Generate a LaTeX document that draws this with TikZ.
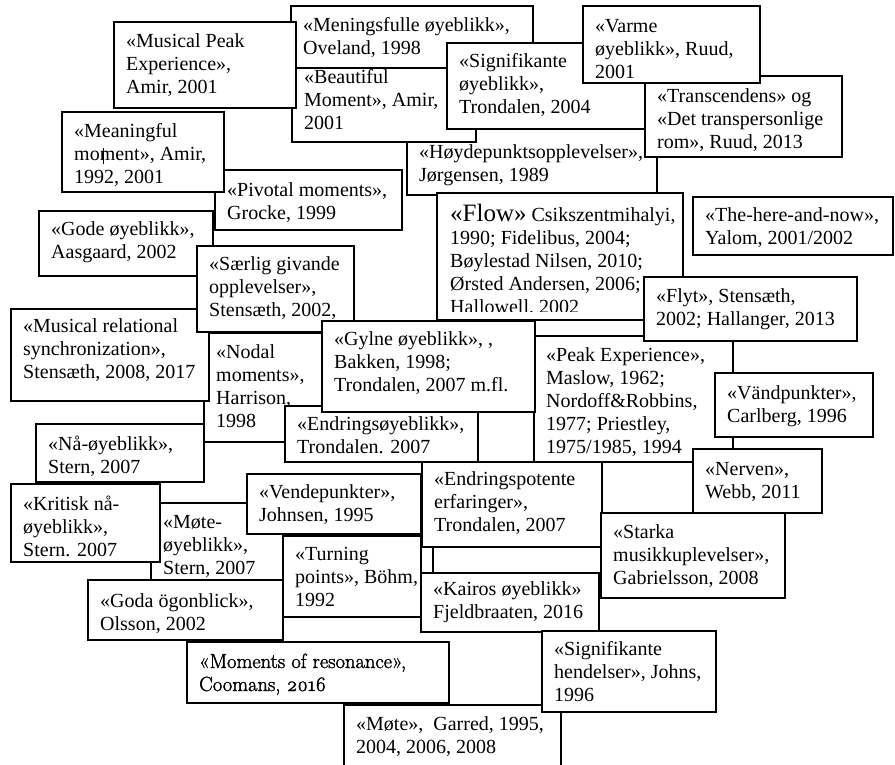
\documentclass[tikz,border=0pt]{standalone}
\usepackage{fontspec}
\setmainfont{Liberation Serif}
\newfontfamily\lmfont[FakeBold=1.6,Numbers=OldStyle]{Latin Modern Roman}
\newcommand\tl[1]{\vtop{\baselineskip=23pt\lineskiplimit=-100pt\lineskip=0pt\def\\{\cr}\halign{##\hfil\cr#1\cr}}}
\tikzset{
 boxline/.style={draw=black, line width=1.1pt, fill=white},
 txt/.style={anchor=base west, inner sep=0pt, font=\fontsize{20}{23}\selectfont},
}
% name, x1, y1, x2, y2, baseline offset, text
\newcommand\card[7]{%
  \path[boxline] (#2,#3) rectangle (#4,#5);
  \node[txt] (#1) at ([shift={(12,#6)}]#2,#3) {\tl{#7}};
}
\begin{document}
\begin{tikzpicture}[x=1pt,y=-1pt]
\fill[white] (0,0) rectangle (895,764);
\clip (0,0) rectangle (895,764);
\card{hoyde}{407}{129}{657}{195}{29}{«Høydepunktsopplevelser»,\\Jørgensen, 1989}
\card{beaut}{292}{58}{476}{142}{25}{«Beautiful\\Moment», Amir,\\2001}
\card{mening}{291}{6}{533}{68}{25}{«Meningsfulle øyeblikk»,\\Oveland, 1998}
\card{mpeak}{114}{22}{296}{108}{25}{«Musical Peak\\Experience»,\\Amir, 2001}
\card{transc}{645}{76}{842}{157}{26}{«Transcendens» og\\«Det transpersonlige\\rom», Ruud, 2013}
\card{signif}{447}{43}{645}{129}{24}{«Signifikante\\øyeblikk»,\\Trondalen, 2004}
\card{varme}{583}{6}{760}{83}{26}{«Varme\\øyeblikk», Ruud,\\2001}
\card{pivot}{215}{170}{402}{230}{26}{«Pivotal moments»,\\Grocke, 1999}
\card{meaning}{62}{112}{224}{192}{25}{«Meaningful\\moment», Amir,\\1992, 2001}
\draw[line width=0.8pt] (103,148) -- (103,164);
% Flow box with clipped text
\path[boxline] (437,193) rectangle (683,320);
\begin{scope}
\clip (437,193) rectangle (683,311);
\node[txt] (flow) at (450,221) {\tl{{\fontsize{25}{23}\selectfont «Flow»} Csikszentmihalyi,\\1990; Fidelibus, 2004;\\Bøylestad Nilsen, 2010;\\Ørsted Andersen, 2006;\\Hallowell, 2002}};
\end{scope}
\card{here}{693}{197}{893}{255}{24}{«The-here-and-now»,\\Yalom, 2001/2002}
\card{peak}{534}{336}{733}{462}{25}{«Peak Experience»,\\Maslow, 1962;\\Nordoff\&Robbins,\\1977; Priestley,\\1975/1985, 1994}
\card{flyt}{644}{277}{857}{341}{25}{«Flyt», Stensæth,\\2002; Hallanger, 2013}
\card{vand}{715}{373}{873}{437}{26}{«Vändpunkter»,\\Carlberg, 1996}
\card{nerven}{693}{449}{822}{513}{26}{«Nerven»,\\Webb, 2011}
\card{gode}{39}{211}{213}{276}{24}{«Gode øyeblikk»,\\Aasgaard, 2002}
\card{nodal}{204}{333}{330}{442}{25}{«Nodal\\moments»,\\Harrison,\\1998}
\card{mrs}{11}{309}{209}{401}{23}{«Musical relational\\synchronization»,\\Stensæth, 2008, 2017}
\card{saerlig}{197}{246}{354}{332}{24}{«Særlig givande\\opplevelser»,\\Stensæth, 2002,}
\card{endoy}{285}{406}{478}{462}{24}{«Endringsøyeblikk»,\\Trondalen. 2007}
\card{gylne}{322}{321}{535}{412}{24}{«Gylne øyeblikk», ,\\Bakken, 1998;\\Trondalen, 2007 m.fl.}
\card{na}{36}{424}{204}{482}{26}{«Nå-øyeblikk»,\\Stern, 2007}
\card{mote}{151}{503}{300}{590}{25}{«Møte-\\øyeblikk»,\\Stern, 2007}
\card{krit}{11}{484}{160}{562}{26}{«Kritisk nå-\\øyeblikk»,\\Stern. 2007}
\path[boxline] (433,515) rectangle (640,590);
\card{endpot}{422}{462}{602}{547}{23}{«Endringspotente\\erfaringer»,\\Trondalen, 2007}
\card{vende}{247}{474}{421}{534}{24}{«Vendepunkter»,\\Johnsen, 1995}
\card{turn}{283}{536}{421}{617}{24}{«Turning\\points», Böhm,\\1992}
\card{goda}{88}{580}{283}{640}{27}{«Goda ögonblick»,\\Olsson, 2002}
\card{kairos}{421}{573}{599}{632}{22}{«Kairos øyeblikk»\\Fjeldbraaten, 2016}
\card{starka}{601}{513}{785}{598}{25}{«Starka\\musikkuplevelser»,\\Gabrielsson, 2008}
\path[boxline] (187,642) rectangle (449,703);
\node[txt, font=\lmfont\fontsize{20.5}{23}\selectfont] (moments) at (199,668) {\tl{«Moments of resonance»,\\Coomans, 2016}};
\card{garred}{344}{705}{561}{790}{25}{«Møte»,\ \ Garred, 1995,\\2004, 2006, 2008}
\card{sh}{542}{631}{716}{712}{24}{«Signifikante\\hendelser», Johns,\\1996}
\end{tikzpicture}
\end{document}
